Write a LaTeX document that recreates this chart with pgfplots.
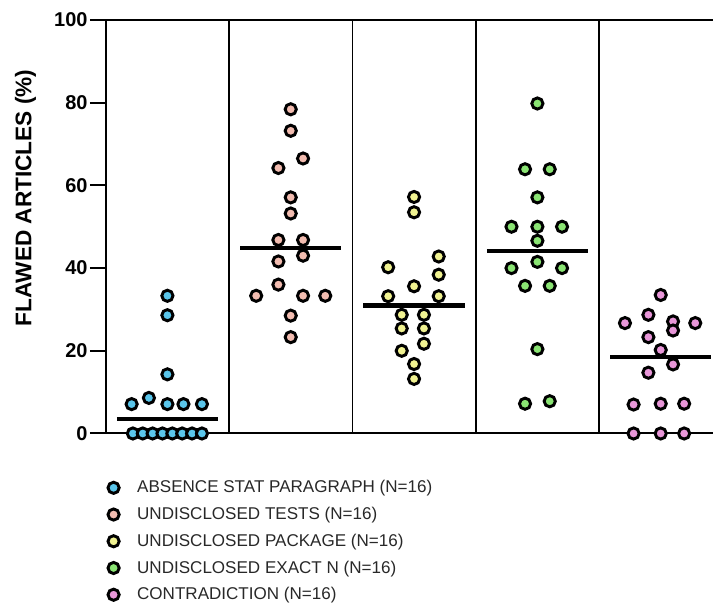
\documentclass[border=0pt]{standalone}
\usepackage{pgfplots}
\pgfplotsset{compat=1.18}
\usepackage{fontspec}
\setmainfont{Liberation Sans}
\definecolor{cblue}{RGB}{90,198,235}
\definecolor{csalmon}{RGB}{242,188,176}
\definecolor{cyellow}{RGB}{240,242,145}
\definecolor{cgreen}{RGB}{138,228,115}
\definecolor{cpink}{RGB}{232,150,216}
\definecolor{legtext}{RGB}{40,40,40}
\pgfplotsset{dot/.style={only marks, mark=*, mark size=4.2pt,
   mark options={draw=black, line width=2.2pt, fill=#1}}}
\begin{document}
\begin{tikzpicture}
\begin{axis}[
 scale only axis, width=456pt, height=310.5pt,
 xmin=-0.5, xmax=4.424, ymin=0, ymax=100,
 axis x line*=bottom, axis y line*=left,
 axis line style={line width=1.5pt},
 xtick=\empty,
 ytick={0,20,...,100},
 tick align=outside, major tick length=12pt,
 ytick style={line width=1.5pt, black},
 yticklabel style={font=\fontsize{15}{15}\selectfont\bfseries, inner xsep=1.5pt},
 /pgf/number format/assume math mode=true,
 ylabel={FLAWED ARTICLES (\%)},
 ylabel style={font=\fontsize{17}{17}\selectfont\bfseries, at={(axis description cs:-0.132,0.57)}, anchor=center},
 clip=false,
 legend style={draw=none, fill=none, at={(axis description cs:0,0)}, anchor=north west,
   xshift=1.5pt, yshift=-33.2pt, inner sep=0pt, column sep=11.5pt, row sep=5.3pt,
   font=\fontsize{12.8}{12.8}\selectfont\color{legtext}},
 legend cell align=left,
 legend image code/.code={\draw[#1] plot coordinates {(0pt,0pt)};},
]
% separators and top line
\addplot[forget plot, no marks, sharp plot, black, line width=1.3pt] coordinates {(0.5,0) (0.5,100)};
\addplot[forget plot, no marks, sharp plot, black, line width=1.3pt] coordinates {(1.5,0) (1.5,100)};
\addplot[forget plot, no marks, sharp plot, black, line width=1.3pt] coordinates {(2.5,0) (2.5,100)};
\addplot[forget plot, no marks, sharp plot, black, line width=1.3pt] coordinates {(3.5,0) (3.5,100)};
\addplot[forget plot, no marks, sharp plot, black, line width=1.5pt] coordinates {(-0.5,100) (4.424,100)};

\addplot[dot=cblue] table {
x y
0.00 33.3
0.00 28.6
0.00 14.3
-0.29 7.1
-0.15 8.6
0.00 7.1
0.13 7.1
0.28 7.1
-0.28 0
-0.20 0
-0.12 0
-0.04 0
0.04 0
0.12 0
0.20 0
0.28 0
};
\addlegendentry{ABSENCE STAT PARAGRAPH (N=16)}

\addplot[dot=csalmon] table {
x y
1.00 78.4
1.00 73.2
1.10 66.5
0.90 64.2
1.00 57.1
1.00 53.2
0.90 46.8
1.10 46.8
1.10 43.0
0.90 41.6
0.90 36.0
0.72 33.3
1.10 33.3
1.28 33.3
1.00 28.5
1.00 23.3
};
\addlegendentry{UNDISCLOSED TESTS (N=16)}

\addplot[dot=cyellow] table {
x y
2.00 57.2
2.00 53.5
2.20 42.8
1.79 40.2
2.20 38.4
2.00 35.6
1.79 33.2
2.20 33.2
1.90 28.7
2.08 28.7
1.90 25.4
2.08 25.4
2.08 21.7
1.90 20.0
2.00 16.8
2.00 13.2
};
\addlegendentry{UNDISCLOSED PACKAGE (N=16)}

\addplot[dot=cgreen] table {
x y
3.00 79.8
2.90 63.9
3.10 63.9
3.00 57.1
2.79 50.0
3.00 50.0
3.20 50.0
3.00 46.6
3.00 41.5
2.79 40.0
3.20 40.0
2.90 35.7
3.10 35.7
3.00 20.4
2.90 7.2
3.10 7.8
};
\addlegendentry{UNDISCLOSED EXACT N (N=16)}

\addplot[dot=cpink] table {
x y
4.00 33.5
3.90 28.7
3.71 26.7
4.10 27.1
4.28 26.7
4.10 24.9
3.90 23.3
4.00 20.2
4.10 16.7
3.90 14.7
3.78 7.0
4.00 7.2
4.19 7.2
3.78 0
4.00 0
4.19 0
};
\addlegendentry{CONTRADICTION (N=16)}

% medians
\addplot[forget plot, no marks, sharp plot, black, line width=3.2pt] coordinates {(-0.41,3.5) (0.41,3.5)};
\addplot[forget plot, no marks, sharp plot, black, line width=3.2pt] coordinates {(0.59,44.9) (1.41,44.9)};
\addplot[forget plot, no marks, sharp plot, black, line width=3.2pt] coordinates {(1.59,30.95) (2.41,30.95)};
\addplot[forget plot, no marks, sharp plot, black, line width=3.2pt] coordinates {(2.59,44.05) (3.41,44.05)};
\addplot[forget plot, no marks, sharp plot, black, line width=3.2pt] coordinates {(3.59,18.45) (4.41,18.45)};

\path (rel axis cs:0,0) ++(-79.4pt,-132pt) coordinate (bl);
\path (rel axis cs:1,1) ++(0pt,15pt) coordinate (tr);
\end{axis}
\path (bl) rectangle (tr);
\end{tikzpicture}
\end{document}
